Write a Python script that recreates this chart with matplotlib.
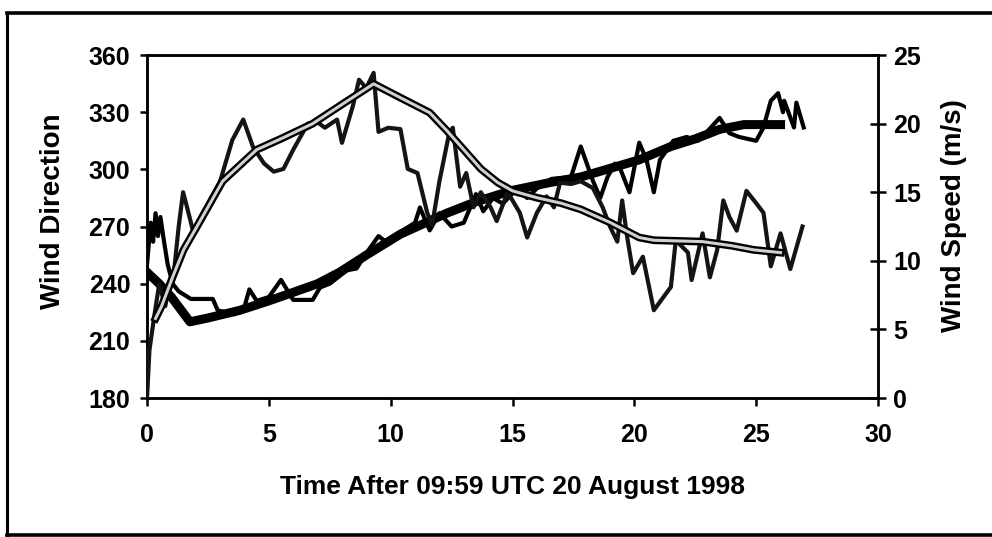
import matplotlib
matplotlib.use('Agg')
import matplotlib.pyplot as plt
import matplotlib.patheffects as pe
from matplotlib.lines import Line2D

plt.rcParams['font.family'] = ['Liberation Sans', 'DejaVu Sans']
plt.rcParams['font.weight'] = 'bold'

# wind direction (deg), raw and fitted
t_dir = [0, 0.15, 0.25, 0.35, 0.45, 0.55, 0.7, 0.85, 1.05, 1.3,
         1.8, 2.7, 2.9, 3.6, 4.0, 4.2, 4.5, 5.0, 5.5, 6.0,
         6.8, 7.1, 7.5, 8.2, 8.6, 9.0, 9.5, 9.8, 10.5, 11.0,
         11.2, 11.6, 12.0, 12.5, 13.0, 13.5, 13.8, 14.2, 14.6, 15.2,
         15.6, 16.0, 16.6, 17.4, 17.8, 18.3, 18.6, 18.9, 19.2, 19.4,
         19.8, 20.2, 20.5, 20.8, 21.05, 21.6, 22.15, 22.6, 23.0, 23.5,
         23.9, 24.3, 25.0, 25.3, 25.6, 25.9, 26.1, 26.15, 26.55, 26.65,
         26.95]
wind_dir = [250, 272, 262, 277, 265, 275, 262, 250, 240, 236,
            232, 232, 226, 224, 228, 237, 231, 233, 242, 231.5,
            231.5, 238, 240, 247, 248, 256, 265, 262, 268, 272,
            280, 268, 277, 270, 272, 287, 278, 285, 282, 290,
            285, 290, 295, 296, 312, 294, 285, 296, 303, 301,
            288, 314, 305, 288, 305, 315, 317, 315, 320, 327,
            319, 317, 315, 322, 336, 340, 330, 336, 322, 335,
            322]

t_dir_fit = [0, 0.5, 1.0, 1.76, 2.5, 3.8, 5.0, 5.9, 7.0, 7.9, 9.0, 10.4,
             12.3, 13.5, 15.0, 16.5, 17.8, 19.4, 20.2, 21.5, 22.5, 23.5, 24.5, 26.0]
dir_fit = [246, 240, 233, 220, 222, 226, 231, 235, 240, 246, 255, 266,
           277, 283, 289, 293, 296, 302, 305, 312, 316, 321, 323.5, 323.5]

# wind speed (m/s), raw and fitted
t_spd = [0, 0.1, 0.3, 0.5, 0.75, 0.95, 1.1, 1.3, 1.48, 1.6,
         1.9, 2.2, 3.0, 3.5, 3.95, 4.35, 4.8, 5.2, 5.6, 6.0,
         6.6, 7.0, 7.3, 7.8, 8.0, 8.45, 8.7, 9.0, 9.3, 9.5,
         9.9, 10.4, 10.7, 11.1, 11.5, 11.7, 12.0, 12.4, 12.55, 12.85,
         13.1, 13.4, 13.7, 14.1, 14.35, 14.8, 15.3, 15.6, 16.0, 16.4,
         16.7, 16.95, 17.4, 17.8, 18.3, 18.7, 19.0, 19.3, 19.5, 19.7,
         19.95, 20.35, 20.8, 21.5, 21.7, 22.2, 22.35, 22.8, 23.1, 23.4,
         23.65, 23.9, 24.2, 24.6, 25.0, 25.3, 25.6, 26.0, 26.4, 26.9]
wind_spd = [0.0, 3.5, 6.0, 8.3, 6.7, 8.5, 9.1, 12.5, 15.0, 14.2,
            12.1, 13.2, 15.8, 18.8, 20.3, 18.3, 17.1, 16.5, 16.7, 18.1,
            20.0, 20.1, 19.7, 20.3, 18.6, 21.3, 23.2, 22.6, 23.7, 19.4,
            19.7, 19.6, 16.7, 16.4, 13.5, 12.6, 15.8, 19.3, 19.7, 15.4,
            16.4, 13.9, 15.0, 13.9, 12.9, 15.0, 13.5, 11.7, 13.5, 14.7,
            13.9, 15.7, 15.6, 15.8, 15.3, 13.9, 12.5, 11.4, 14.4, 11.8,
            9.1, 10.3, 6.4, 8.1, 11.5, 10.6, 8.6, 12.0, 8.8, 10.8,
            14.4, 13.2, 12.2, 15.1, 14.2, 13.5, 9.6, 12.0, 9.4, 12.5]

t_spd_fit = [0.35, 0.6, 1.07, 1.5, 2.05, 3.1, 4.5, 5.5, 6.8, 8.0,
             9.3, 10.5, 11.6, 12.3, 13.0, 13.7, 14.4, 15.0, 16.0, 17.0,
             17.8, 19.0, 20.2, 20.8, 22.8, 24.0, 24.9, 26.0]
spd_fit = [5.8, 6.7, 8.9, 10.8, 12.5, 15.8, 18.1, 18.9, 20.0, 21.4,
           22.9, 21.8, 20.8, 19.5, 18.1, 16.7, 15.7, 15.1, 14.6, 14.2,
           13.75, 12.8, 11.7, 11.5, 11.4, 11.1, 10.8, 10.6]

fig = plt.figure(figsize=(9.92, 5.37), dpi=100)
ax = fig.add_axes([0.1482, 0.2588, 0.7369, 0.6387])
ax2 = ax.twinx()

ax.plot(t_dir, wind_dir, color='black', lw=3.0, zorder=3)
ax.plot(t_dir_fit, dir_fit, color='black', lw=6.5, zorder=4)

ax2.plot(t_spd, wind_spd, color='#141414', lw=3.0, zorder=3)
ax2.plot(t_spd_fit, spd_fit, color='#d0d0d0', lw=2.2, zorder=4,
         path_effects=[pe.Stroke(linewidth=5.6, foreground='black'), pe.Normal()])

ax.set_xlim(0, 30)
ax.set_ylim(180, 360)
ax2.set_ylim(0, 25)
ax.set_xticks(range(0, 31, 5))
ax.set_yticks(range(180, 361, 30))
ax2.set_yticks(range(0, 26, 5))

for a in (ax, ax2):
    for s in a.spines.values():
        s.set_linewidth(1.8)
ax.tick_params(axis='x', direction='out', length=6, width=1.8, pad=12, labelsize=18)
ax.tick_params(axis='y', direction='out', length=5, width=1.8, pad=7, labelsize=18)
ax2.tick_params(axis='y', direction='inout', length=12, width=1.8, pad=5, labelsize=18)

fig.text(0.053, 1 - 211 / 537, 'Wind Direction', rotation=90, fontsize=20,
         fontweight='bold', ha='center', va='center')
fig.text(0.962, 1 - 216 / 537, 'Wind Speed (m/s)', rotation=90, fontsize=20,
         fontweight='bold', ha='center', va='center')
fig.text(512 / 992, 1 - 487 / 537, 'Time After 09:59 UTC 20 August 1998', fontsize=19,
         fontweight='bold', ha='center', va='center')

# border round the whole chart
fig.add_artist(Line2D([0.0075, 0.0075], [0.004, 0.976], color='black', lw=2.2))
fig.add_artist(Line2D([0.0075, 1.0], [0.976, 0.976], color='black', lw=2.6))
fig.add_artist(Line2D([0.0075, 1.0], [0.004, 0.004], color='black', lw=2.6))

fig.savefig('out.png', dpi=100)
